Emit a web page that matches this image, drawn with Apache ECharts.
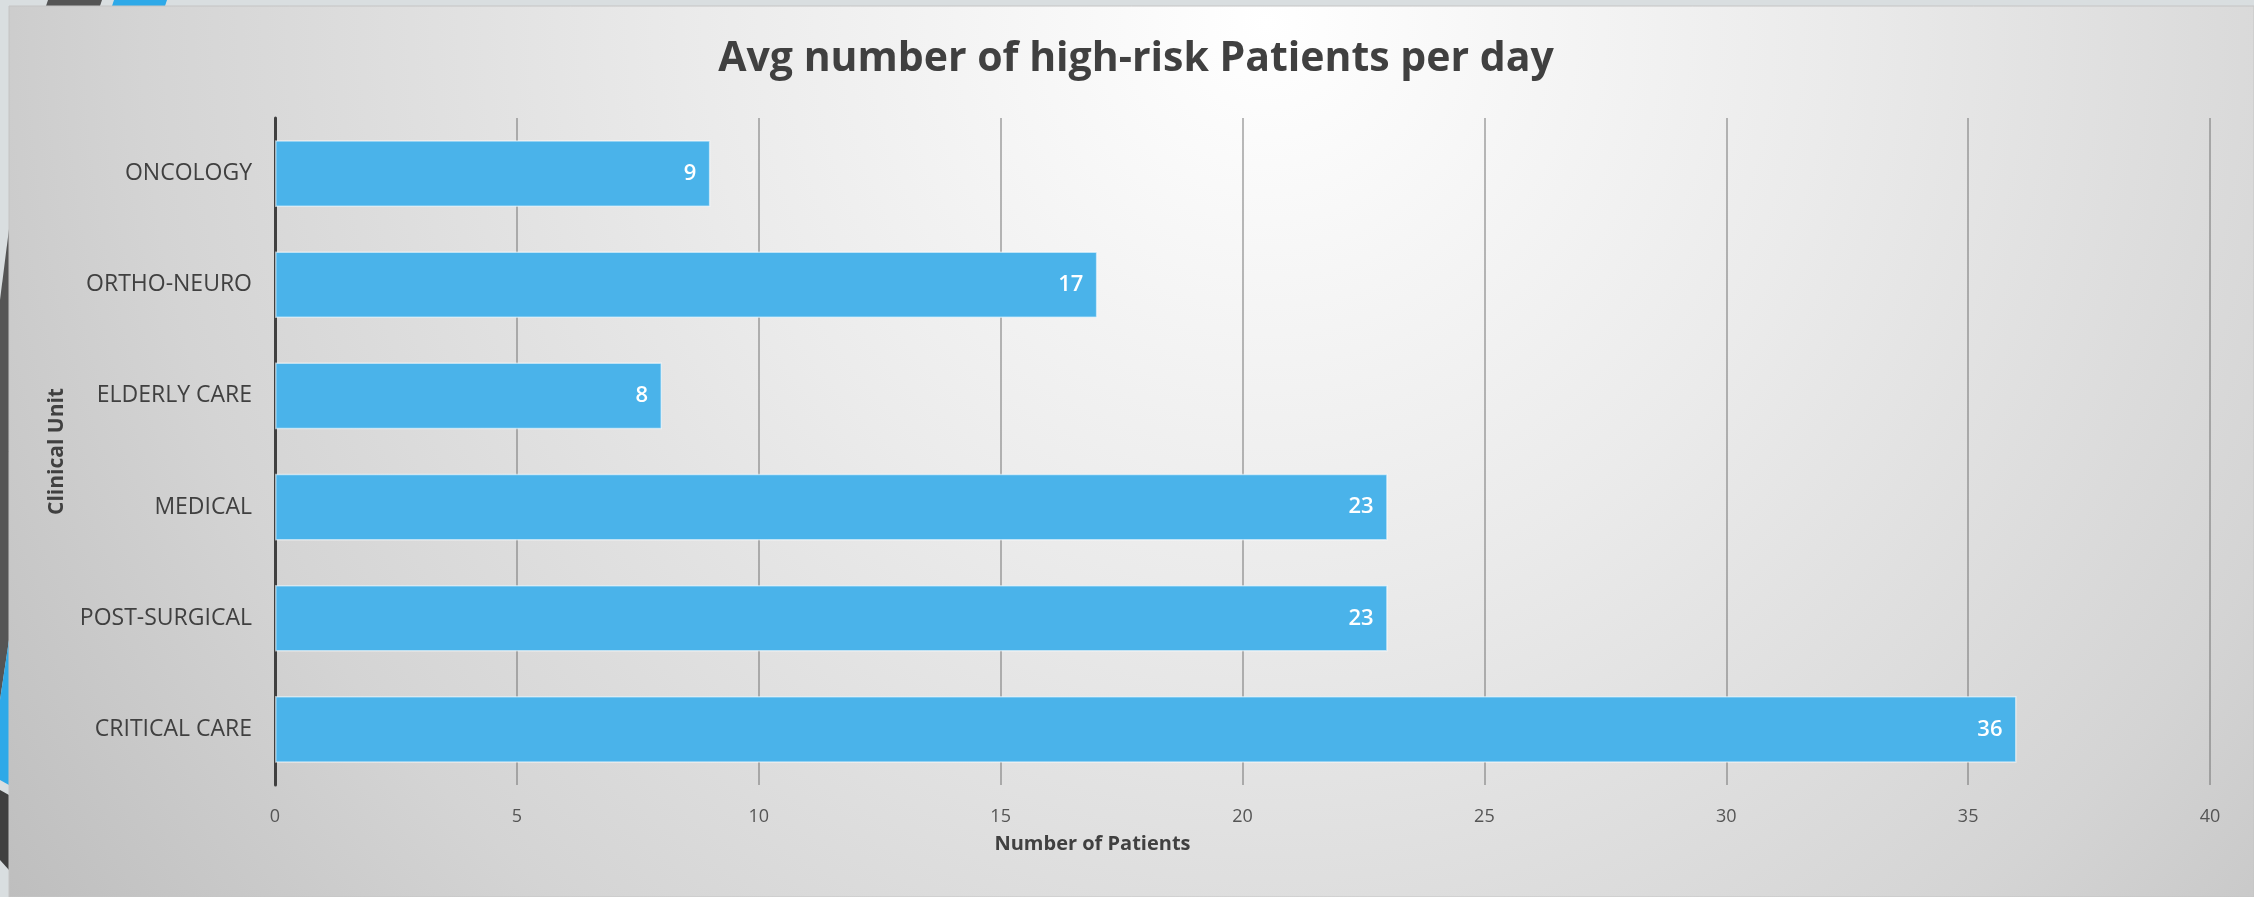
<!DOCTYPE html>
<html>
<head>
<meta charset="utf-8">
<script src="https://cdn.jsdelivr.net/npm/echarts@6/dist/echarts.min.js"></script>
<style>
  html, body { margin: 0; padding: 0; background: #d9dee0; }
  #chart { width: 2254px; height: 897px; }
</style>
</head>
<body>
<div id="chart"></div>
<script>
const units = ["ONCOLOGY", "ORTHO-NEURO", "ELDERLY CARE", "MEDICAL", "POST-SURGICAL", "CRITICAL CARE"];
const patients = [9, 17, 8, 23, 23, 36];
const xTicks = [0, 5, 10, 15, 20, 25, 30, 35, 40];

const textColor = "#404040";
const barColor = "#4ab3ea";
const font = "'Open Sans', sans-serif";

const chart = echarts.init(document.getElementById("chart"), null, { renderer: "canvas" });

chart.setOption({
  animation: false,
  backgroundColor: "#d9dee0",
  graphic: [
    // slide decorations outside the panel
    { type: "polygon", z: -10, shape: { points: [[48, 0], [102, 0], [100, 6], [46, 6]] }, style: { fill: "#555555" } },
    { type: "polygon", z: -10, shape: { points: [[114, 0], [167, 0], [165, 6], [112, 6]] }, style: { fill: "#2ea9e8" } },
    { type: "polygon", z: -10, shape: { points: [[9, 229], [9, 640], [0, 700], [0, 300]] }, style: { fill: "#555555" } },
    { type: "polygon", z: -10, shape: { points: [[9, 640], [9, 785], [0, 780], [0, 700]] }, style: { fill: "#2ea9e8" } },
    { type: "polygon", z: -10, shape: { points: [[9, 795], [9, 870], [0, 860], [0, 790]] }, style: { fill: "#404040" } },
    // chart panel
    {
      type: "rect", z: -5,
      shape: { x: 9, y: 6, width: 2245, height: 891 },
      style: {
        fill: {
          type: "radial", x: 0.56, y: 0.02, r: 1.8,
          colorStops: [
            { offset: 0, color: "#ffffff" },
            { offset: 0.35, color: "#ebebeb" },
            { offset: 0.7, color: "#d4d4d4" },
            { offset: 1, color: "#bababa" }
          ]
        },
        stroke: "#c4c4c4", lineWidth: 1
      }
    }
  ],
  title: {
    text: "Avg number of high-risk Patients per day",
    left: 1131, top: 34, textAlign: "center",
    textStyle: { fontFamily: font, fontWeight: "bold", fontSize: 41, color: textColor }
  },
  grid: { left: 275, right: 44, top: 118, bottom: 112, containLabel: false },
  xAxis: {
    type: "value",
    min: xTicks[0], max: xTicks[xTicks.length - 1], interval: 5,
    axisLine: { show: false },
    axisTick: { show: false },
    splitLine: { show: true, lineStyle: { color: "rgba(100,100,100,0.6)", width: 1.5 } },
    axisLabel: { fontFamily: font, fontSize: 18, color: "#555555", margin: 23 },
    name: "Number of Patients",
    nameLocation: "middle",
    nameGap: 49,
    nameTextStyle: { fontFamily: font, fontWeight: "bold", fontSize: 20, color: textColor, padding: [0, 300, 0, 0] }
  },
  yAxis: {
    type: "category",
    data: units,
    inverse: true,
    axisLine: { show: true, lineStyle: { color: textColor, width: 3 } },
    axisTick: { show: false },
    axisLabel: { fontFamily: font, fontSize: 23, color: textColor, margin: 23 },
    name: "Clinical Unit",
    nameLocation: "middle",
    nameRotate: 90,
    nameGap: 207,
    nameTextStyle: { fontFamily: font, fontWeight: "bold", fontSize: 21, color: textColor }
  },
  series: [{
    type: "bar",
    data: patients,
    barCategoryGap: "40%",
    itemStyle: { color: barColor, borderColor: "rgba(255,255,255,0.55)", borderWidth: 1.5 },
    label: {
      show: true, position: "insideRight", distance: 14,
      color: "#ffffff", fontFamily: font, fontSize: 22, fontWeight: 600
    },
    emphasis: { disabled: true }
  }]
});
</script>
</body>
</html>
